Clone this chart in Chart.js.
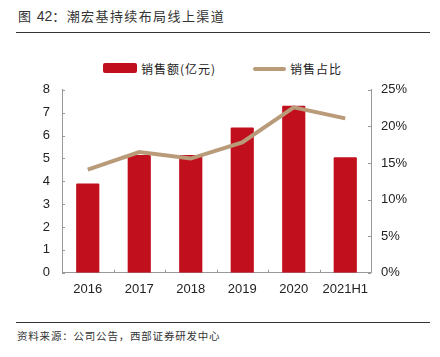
<!DOCTYPE html>
<html><head><meta charset="utf-8">
<script src="https://cdn.jsdelivr.net/npm/chart.js@4/dist/chart.umd.min.js"></script>
<style>
html,body{margin:0;padding:0;background:#fff;}
body{width:440px;height:357px;position:relative;overflow:hidden;font-family:"Liberation Sans",Arial,sans-serif;}
#title{position:absolute;left:18px;top:6px;font:13px "Noto Sans CJK SC";color:#333;letter-spacing:1.4px;white-space:nowrap;}
#title .n{font-family:"Liberation Sans",Arial,sans-serif;font-size:14px;letter-spacing:0;}
#l1{position:absolute;left:16px;top:32px;width:414px;height:1px;background:#333;}
#l2{position:absolute;left:16px;top:322px;width:414px;height:1px;background:#333;}
#src{position:absolute;left:17px;top:328px;font:10.5px "Noto Sans CJK SC";color:#333;letter-spacing:0.8px;white-space:nowrap;}
.lg{position:absolute;top:60px;font:12px "Noto Sans CJK SC";color:#222;letter-spacing:1px;white-space:nowrap;}
#box1{position:absolute;left:103px;top:63px;width:34px;height:10px;background:#C20F1E;border-radius:2px;}
#box2{position:absolute;left:253px;top:67px;width:33px;height:4px;background:#B99B7A;border-radius:2px;}
#wrap{position:absolute;left:0;top:70px;width:440px;height:235px;}
</style></head>
<body>
<div id="title">图 <span class="n">42</span>：潮宏基持续布局线上渠道</div>
<div id="l1"></div>
<div id="box1"></div><div class="lg" style="left:141px">销售额(亿元)</div>
<div id="box2"></div><div class="lg" style="left:290px">销售占比</div>
<div id="wrap"><canvas id="c" width="440" height="235"></canvas></div>
<div id="l2"></div>
<div id="src">资料来源：公司公告，西部证券研发中心</div>
<script>
const categories = ["2016","2017","2018","2019","2020","2021H1"];
const salesValues = [3.9, 5.15, 5.15, 6.35, 7.3, 5.05];
const shareValues = [14.1, 16.5, 15.6, 17.8, 22.6, 21.1];
const leftTicks = [0,1,2,3,4,5,6,7,8];
const rightTicks = [0,5,10,15,20,25];

const innerTicks = {
  id:'innerTicks',
  afterDraw(chart){
    const ctx = chart.ctx, a = chart.chartArea;
    const yL = chart.scales.y, yR = chart.scales.y1, x = chart.scales.x;
    ctx.save();
    ctx.strokeStyle = '#999'; ctx.lineWidth = 1;
    ctx.beginPath();
    leftTicks.forEach(v=>{const p=Math.round(yL.getPixelForValue(v))+0.5; ctx.moveTo(a.left,p); ctx.lineTo(a.left+3,p);});
    rightTicks.forEach(v=>{const p=Math.round(yR.getPixelForValue(v))+0.5; ctx.moveTo(a.right-3,p); ctx.lineTo(a.right,p);});
    for(let i=0;i<=categories.length;i++){
      const p = Math.round(x.getPixelForValue(i-0.5))+0.5;
      ctx.moveTo(p,a.bottom); ctx.lineTo(p,a.bottom-3);
    }
    ctx.stroke();
    ctx.restore();
  }
};

new Chart(document.getElementById('c'), {
  data:{
    labels:categories,
    datasets:[
      {type:'line', label:'销售占比', data:shareValues, yAxisID:'y1', borderColor:'#B99B7A', borderWidth:4, pointRadius:0, tension:0, order:0},
      {type:'bar', label:'销售额(亿元)', data:salesValues, yAxisID:'y', backgroundColor:'#C20F1E', barPercentage:0.45, categoryPercentage:1, borderRadius:1, order:1}
    ]
  },
  options:{
    responsive:false, animation:false, devicePixelRatio:1,
    layout:{padding:{top:0,bottom:4,left:0,right:0}},
    plugins:{legend:{display:false}, tooltip:{enabled:false}},
    scales:{
      x:{
        grid:{display:false, drawTicks:false},
        border:{display:true,color:'#999'},
        ticks:{color:'#222', font:{family:'"Liberation Sans", Arial', size:13}, padding:9, maxRotation:0},
        afterFit(s){s.height=28.3;}
      },
      y:{
        position:'left', min:0, max:8,
        afterBuildTicks(s){s.ticks=leftTicks.map(v=>({value:v}));},
        grid:{display:false, drawTicks:false},
        border:{display:true,color:'#999'},
        ticks:{color:'#222', font:{family:'"Liberation Sans", Arial', size:13}, padding:12},
        afterFit(s){s.width=62;}
      },
      y1:{
        position:'right', min:0, max:25,
        afterBuildTicks(s){s.ticks=rightTicks.map(v=>({value:v}));},
        grid:{display:false, drawTicks:false},
        border:{display:true,color:'#999'},
        ticks:{color:'#222', font:{family:'"Liberation Sans", Arial', size:13}, padding:10, callback:v=>v+'%'},
        afterFit(s){s.width=69;}
      }
    }
  },
  plugins:[innerTicks]
});
</script>
</body></html>
